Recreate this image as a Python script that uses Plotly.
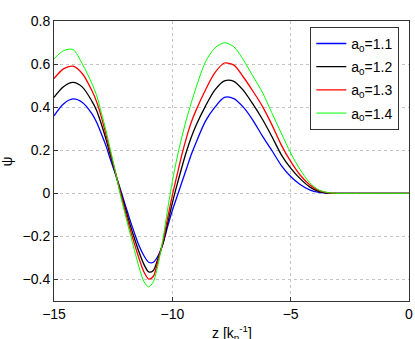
import plotly.graph_objects as go

# sample positions along z [1/k_p]
z = [-15, -14.6, -14.2, -13.8,
     -13.4, -13.2, -13.0, -12.8, -12.6, -12.4, -12.2, -12.0, -11.8, -11.6,
     -11.4, -11.2, -11.0, -10.8, -10.6, -10.4, -10.2, -10.0, -9.8, -9.6,
     -9.4, -9.2, -9.0,
     -8.6, -8.2, -7.8, -7.4, -7.0, -6.6, -6.2, -5.8, -5.4, -5.0, -4.6,
     -4.2, -3.8, -3.4,
     -3.0, -2.0, -1.0, 0.0]

# psi for each a0
psi_11 = [0.36, 0.415, 0.438, 0.422,
          0.37, 0.33, 0.277, 0.22, 0.152, 0.088, 0.02, -0.05, -0.12, -0.185,
          -0.245, -0.29, -0.32, -0.32, -0.29, -0.235, -0.155, -0.08, -0.015, 0.05,
          0.115, 0.18, 0.235,
          0.335, 0.40, 0.445, 0.44, 0.40, 0.34, 0.267, 0.20, 0.13, 0.078, 0.041,
          0.016, 0.004, 0.0,
          0.0, 0.0, 0.0, 0.0]
psi_12 = [0.446, 0.495, 0.515, 0.493,
          0.428, 0.385, 0.322, 0.25, 0.17, 0.092, 0.012, -0.065, -0.14, -0.21,
          -0.275, -0.33, -0.365, -0.358, -0.30, -0.235, -0.14, -0.045, 0.04, 0.12,
          0.195, 0.26, 0.315,
          0.405, 0.48, 0.522, 0.52, 0.478, 0.415, 0.345, 0.265, 0.18, 0.117, 0.068,
          0.03, 0.008, 0.001,
          0.0, 0.0, 0.0, 0.0]
psi_13 = [0.533, 0.578, 0.59, 0.555,
          0.477, 0.425, 0.355, 0.27, 0.183, 0.095, 0.005, -0.08, -0.16, -0.235,
          -0.305, -0.365, -0.398, -0.385, -0.31, -0.225, -0.115, -0.01, 0.085, 0.178,
          0.26, 0.33, 0.385,
          0.48, 0.56, 0.605, 0.595, 0.54, 0.475, 0.405, 0.32, 0.225, 0.148, 0.085,
          0.04, 0.012, 0.002,
          0.0, 0.0, 0.0, 0.0]
psi_14 = [0.624, 0.662, 0.668, 0.60,
          0.51, 0.455, 0.375, 0.29, 0.195, 0.098, -0.005, -0.095, -0.18, -0.265,
          -0.345, -0.41, -0.435, -0.41, -0.33, -0.215, -0.075, 0.055, 0.165, 0.26,
          0.345, 0.42, 0.49,
          0.61, 0.675, 0.699, 0.68, 0.62, 0.545, 0.47, 0.375, 0.28, 0.187, 0.11,
          0.05, 0.015, 0.003,
          0.0, 0.0, 0.0, 0.0]

names = ["a<sub>0</sub>=1.1", "a<sub>0</sub>=1.2", "a<sub>0</sub>=1.3", "a<sub>0</sub>=1.4"]
series = [psi_11, psi_12, psi_13, psi_14]
colors = ["#0000ff", "#000000", "#ff0000", "#00ff00"]
widths = [1.3, 1.3, 1.3, 1.0]

FONT = "Liberation Sans, Arial, sans-serif"

fig = go.Figure()
for i, (name, ys, c, w) in enumerate(zip(names, series, colors, widths)):
    fig.add_trace(go.Scatter(x=z, y=ys, name=name, mode="lines", legendgroup=str(i),
                             line=dict(color=c, width=w, shape="spline", smoothing=0.8)))

axis_common = dict(
    showline=True, linecolor="#333333", linewidth=1, mirror=True,
    ticks="inside", ticklen=4, tickcolor="#333333",
    showgrid=True, gridcolor="#c4c4c4", griddash="dot", gridwidth=1,
    zeroline=False, automargin=False, ticklabeloverflow="allow",
    tickfont=dict(family=FONT, size=14, color="black"),
)

fig.update_xaxes(range=[-15, 0], tick0=0, dtick=5, **axis_common)
fig.update_yaxes(range=[-0.5, 0.8], tick0=0, dtick=0.2, **axis_common)

fig.update_layout(
    width=415, height=339,
    margin=dict(l=54, r=6, t=21, b=38),
    plot_bgcolor="white", paper_bgcolor="white",
    font=dict(family=FONT, size=14, color="black"),
    showlegend=True,
    legend=dict(x=0.722, y=0.979, xanchor="left", yanchor="top",
                bgcolor="white", bordercolor="#333333", borderwidth=1,
                font=dict(family=FONT, size=14), itemwidth=30, tracegroupgap=2),
    annotations=[
        dict(text="z [k<sub>p</sub><sup>-1</sup>]", xref="paper", yref="paper",
             x=0.5, y=-0.072, xanchor="center", yanchor="top", showarrow=False,
             font=dict(family=FONT, size=14, color="black")),
        dict(text="ψ", xref="paper", yref="paper", x=-0.131, y=0.5,
             xanchor="center", yanchor="middle", textangle=-90, showarrow=False,
             font=dict(family=FONT, size=14, color="black")),
    ],
)

# drop the page's default body margin so the figure sits at the window corner
fig.write_html("out.html", config={"displayModeBar": False},
               post_script="document.body.style.margin='0';")
